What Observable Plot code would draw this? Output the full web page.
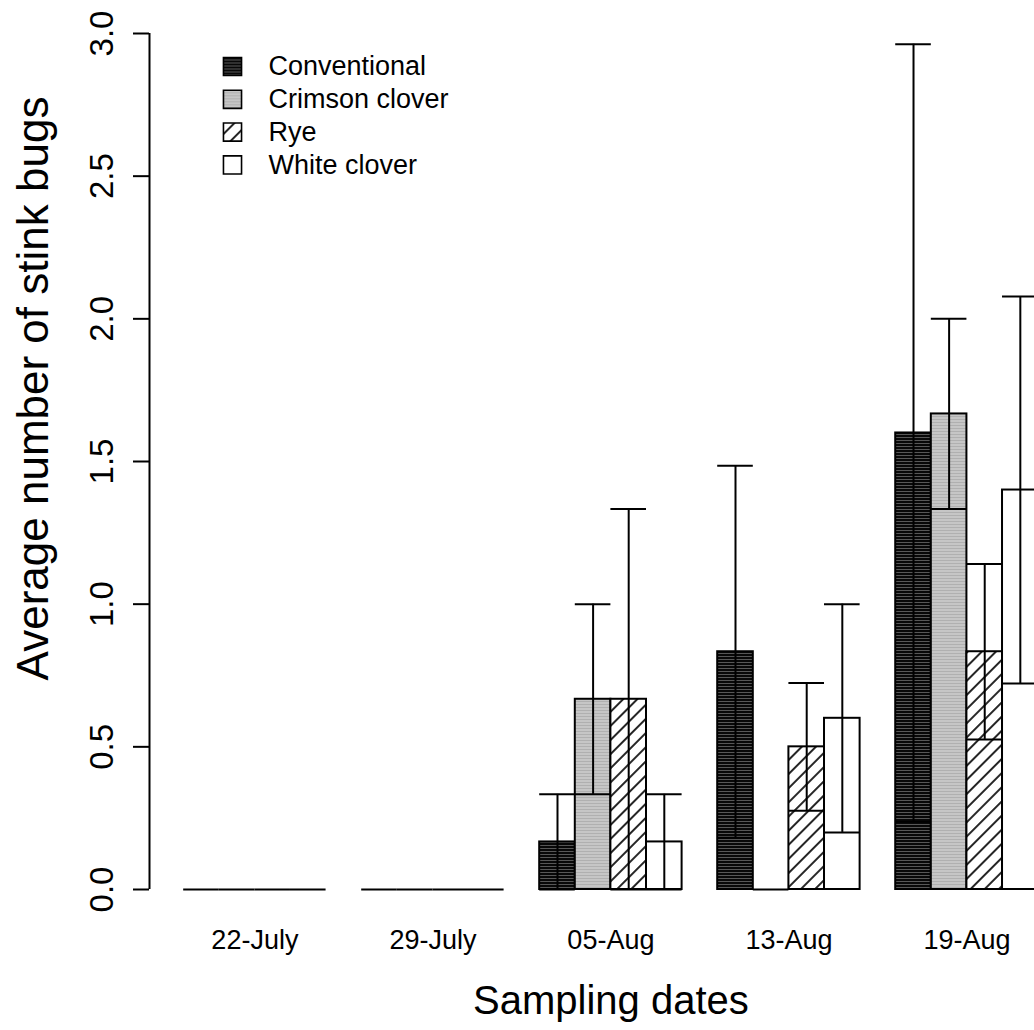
<!DOCTYPE html>
<html>
<head>
<meta charset="utf-8">
<script src="https://cdn.jsdelivr.net/npm/d3@7"></script>
<script src="https://cdn.jsdelivr.net/npm/@observablehq/plot@0.6"></script>
<style>
  html, body { margin: 0; padding: 0; background: #fff; overflow: hidden; }
  #chart svg { display: block; overflow: hidden; }
</style>
</head>
<body>
<div id="chart"></div>
<script>
// Sampling dates and cover-crop treatments
const dates = ["22-July", "29-July", "05-Aug", "13-Aug", "19-Aug"];
const treatments = ["Conventional", "Crimson clover", "Rye", "White clover"];

// Mean stink bugs per sample, one value per date
const conventional = [0, 0, 0.1667, 0.8333, 1.6];
const crimsonClover = [0, 0, 0.6667, 0, 1.6667];
const rye = [0, 0, 0.6667, 0.5, 0.8333];
const whiteClover = [0, 0, 0.1667, 0.6, 1.4];

// Standard errors, same order
const conventionalSE = [0, 0, 0.1667, 0.6519, 1.3626];
const crimsonCloverSE = [0, 0, 0.3333, 0, 0.3333];
const ryeSE = [0, 0, 0.6667, 0.2236, 0.3073];
const whiteCloverSE = [0, 0, 0.1667, 0.4, 0.6782];

// y axis ticks
const yTicks = [0, 0.5, 1.0, 1.5, 2.0, 2.5, 3.0];

const means = [conventional, crimsonClover, rye, whiteClover];
const ses = [conventionalSE, crimsonCloverSE, ryeSE, whiteCloverSE];
const fills = {
  "Conventional": "url(#fill-conventional)",
  "Crimson clover": "url(#fill-crimson)",
  "Rye": "url(#fill-rye)",
  "White clover": "white"
};

// Grouped layout in bar units: each group holds 4 bars, one empty unit before it
const rows = dates.flatMap((date, g) => treatments.map((treatment, s) => ({
  date, treatment,
  mean: means[s][g],
  se: ses[s][g],
  left: g * 5 + s + 1
})));
const groupCenter = (d, g) => g * 5 + 3;
const xMin = 0.04, xMax = 25.96;
const withError = rows.filter(d => d.se > 0);
const lower = d => Math.max(0, d.mean - d.se);
const upper = d => d.mean + d.se;

const legendMarks = treatments.flatMap((t, i) => [
  Plot.dot([t], {
    frameAnchor: "top-left", dx: 83, dy: 33 + 32.8 * i,
    symbol: "square", r: 10.2, fill: fills[t], stroke: "black", strokeWidth: 1.6
  }),
  Plot.text([t], {
    frameAnchor: "top-left", dx: 119, dy: 33 + 32.8 * i,
    text: d => d, textAnchor: "start", lineAnchor: "middle", fontSize: 27
  })
]);

const svg = Plot.plot({
  width: 1034,
  height: 1030,
  marginLeft: 149,
  marginRight: 0,
  marginTop: 33,
  marginBottom: 141,
  style: { fontFamily: "'Liberation Sans', Arial, sans-serif", color: "black", background: "white" },
  x: { type: "linear", domain: [xMin, xMax], range: [149, 1071.8], axis: null },
  y: { domain: [0, 3], axis: null },
  color: { type: "identity" },
  marks: [
    // bars
    Plot.rect(rows.filter(d => d.mean > 0), {
      x1: "left", x2: d => d.left + 1, y1: 0, y2: "mean",
      fill: d => fills[d.treatment], stroke: "black", strokeWidth: 2
    }),
    // zero-height bars show as a line on the baseline
    Plot.ruleY(rows.filter(d => d.mean === 0), {
      y: 0, x1: "left", x2: d => d.left + 1, stroke: "black", strokeWidth: 2
    }),
    // error bars
    Plot.ruleX(withError, { x: d => d.left + 0.5, y1: lower, y2: upper, stroke: "black", strokeWidth: 2 }),
    Plot.ruleY(withError, { y: upper, x1: "left", x2: d => d.left + 1, stroke: "black", strokeWidth: 2 }),
    Plot.ruleY(withError, { y: lower, x1: "left", x2: d => d.left + 1, stroke: "black", strokeWidth: 2 }),
    // y axis
    Plot.ruleX([xMin], { y1: yTicks[0], y2: yTicks[yTicks.length - 1], strokeWidth: 2 }),
    Plot.axisY({ ticks: yTicks, tickSize: 16, tickFormat: () => "", strokeWidth: 2, label: null }),
    Plot.text(yTicks, {
      y: d => d, text: d => d.toFixed(1), frameAnchor: "left", dx: -37,
      rotate: -90, textAnchor: "middle", lineAnchor: "bottom", fontSize: 33
    }),
    Plot.text(["Average number of stink bugs"], {
      frameAnchor: "left", dx: -102, dy: -73, rotate: -90,
      textAnchor: "middle", lineAnchor: "bottom", fontSize: 44
    }),
    // x labels
    Plot.text(dates, {
      x: groupCenter, text: d => d, frameAnchor: "bottom", dy: 59,
      lineAnchor: "bottom", fontSize: 27
    }),
    Plot.text(["Sampling dates"], {
      x: (xMin + xMax) / 2, frameAnchor: "bottom", dy: 124.5,
      lineAnchor: "bottom", fontSize: 40
    }),
    ...legendMarks
  ]
});

// Fill patterns for the treatments
const defs = d3.create("svg:defs");
const conv = defs.append("pattern").attr("id", "fill-conventional")
  .attr("patternUnits", "userSpaceOnUse").attr("width", 4).attr("height", 3);
conv.append("rect").attr("width", 4).attr("height", 3).attr("fill", "#080808");
conv.append("rect").attr("y", 2).attr("width", 4).attr("height", 0.8).attr("fill", "#6a6a6a");

const crim = defs.append("pattern").attr("id", "fill-crimson")
  .attr("patternUnits", "userSpaceOnUse").attr("width", 4).attr("height", 3);
crim.append("rect").attr("width", 4).attr("height", 3).attr("fill", "#c6c6c6");
crim.append("rect").attr("y", 2).attr("width", 4).attr("height", 1).attr("fill", "#b0b0b0");

const hatch = defs.append("pattern").attr("id", "fill-rye")
  .attr("patternUnits", "userSpaceOnUse").attr("width", 10).attr("height", 10)
  .attr("patternTransform", "rotate(45)");
hatch.append("rect").attr("width", 10).attr("height", 10).attr("fill", "white");
hatch.append("line").attr("x1", 5).attr("y1", 0).attr("x2", 5).attr("y2", 10)
  .attr("stroke", "black").attr("stroke-width", 1.7);

svg.insertBefore(defs.node(), svg.firstChild);
document.getElementById("chart").append(svg);
</script>
</body>
</html>
